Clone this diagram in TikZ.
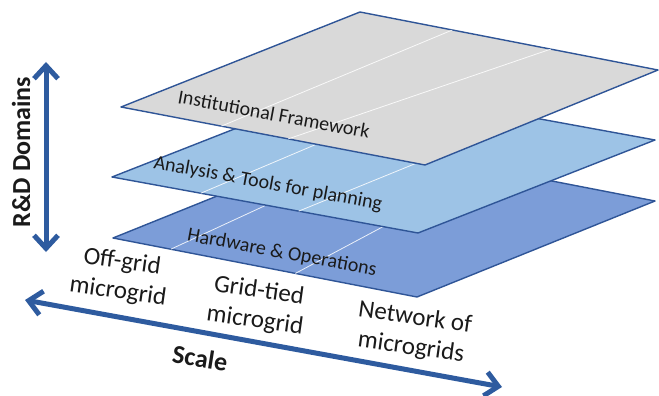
\documentclass[tikz,border=0pt]{standalone}
\usepackage{fontspec}
\setmainfont{Carlito}
\usetikzlibrary{arrows.meta,calc}

\definecolor{edgeblue}{HTML}{2F5597}
\definecolor{arrowblue}{HTML}{2E5B9F}
\definecolor{greyfill}{HTML}{D9D9D9}
\definecolor{lightfill}{HTML}{9DC3E6}
\definecolor{midfill}{HTML}{7C9DD8}
\definecolor{txt}{HTML}{1A1A1A}

\begin{document}
\begin{tikzpicture}[x=1pt,y=-1pt,
  layer/.style={draw=edgeblue,line width=1.4pt,line join=round},
  divider/.style={draw=white,line width=0.8pt,opacity=0.85},
  layerlabel/.style={font=\fontsize{20}{24}\selectfont,text=txt,rotate=-10.5,inner sep=0pt},
  scalelabel/.style={font=\fontsize{25}{30}\selectfont,text=txt,rotate=-8,align=center,inner sep=0pt},
  axisname/.style={font=\bfseries\fontsize{26}{30}\selectfont,text=txt,inner sep=0pt},
  axisarrow/.style={draw=arrowblue,line width=5pt,
    {Straight Barb[length=13pt,width=24pt]}-{Straight Barb[length=13pt,width=24pt]}}]

\useasboundingbox (0,0) rectangle (659,396);

% ---- bottom layer: hardware & operations
\coordinate (hwL) at (113,238);
\coordinate (hwT) at (351,142);
\coordinate (hwR) at (655,201);
\coordinate (hwB) at (417,297);
\filldraw[layer,fill=midfill] (hwL) -- (hwT) -- (hwR) -- (hwB) -- cycle;
\draw[divider] ($(hwL)!0.19!(hwB)$) -- ($(hwT)!0.12!(hwR)$);
\draw[divider] ($(hwL)!0.60!(hwB)$) -- ($(hwT)!0.46!(hwR)$);

% ---- middle layer: analysis & tools
\coordinate (anL) at (112,177);
\coordinate (anT) at (349,84);
\coordinate (anR) at (655,140);
\coordinate (anB) at (418,233);
\filldraw[layer,fill=lightfill] (anL) -- (anT) -- (anR) -- (anB) -- cycle;
\draw[divider] ($(anL)!0.29!(anB)$) -- ($(anT)!0.25!(anR)$);
\draw[divider] ($(anL)!0.61!(anB)$) -- ($(anT)!0.59!(anR)$);

% ---- top layer: institutional framework
\coordinate (ifL) at (121,107);
\coordinate (ifT) at (360,12);
\coordinate (ifR) at (658,70);
\coordinate (ifB) at (425,165);
\filldraw[layer,fill=greyfill] (ifL) -- (ifT) -- (ifR) -- (ifB) -- cycle;
\draw[divider] ($(ifL)!0.33!(ifB)$) -- ($(ifT)!0.31!(ifR)$);
\draw[divider] ($(ifL)!0.55!(ifB)$) -- ($(ifT)!0.64!(ifR)$);

% ---- layer labels
\node[layerlabel] (inst) at (274,114) {Institutional Framework};
\node[layerlabel] (anal) at (268,184) {Analysis \& Tools for planning};
\node[layerlabel] (hard) at (282,253) {Hardware \& Operations};

% ---- vertical axis
\coordinate (vTop) at (46,62);
\coordinate (vBot) at (46,252);
\draw[axisarrow] (vBot) -- (vTop);
\node[axisname,rotate=90] (rdd) at (21,152) {R\&D Domains};

% ---- scale axis
\coordinate (hLeft) at (25,300);
\coordinate (hRight) at (502,387);
\draw[axisarrow] (hLeft) -- (hRight);
\node[axisname,rotate=-9] (scale) at (200,358) {Scale};

\node[scalelabel] (offgrid) at (120,277) {Off-grid\\microgrid};
\node[scalelabel] (gridtied) at (257,306) {Grid-tied\\microgrid};
\node[scalelabel] (network) at (413,333) {Network of\\microgrids};

\end{tikzpicture}
\end{document}
